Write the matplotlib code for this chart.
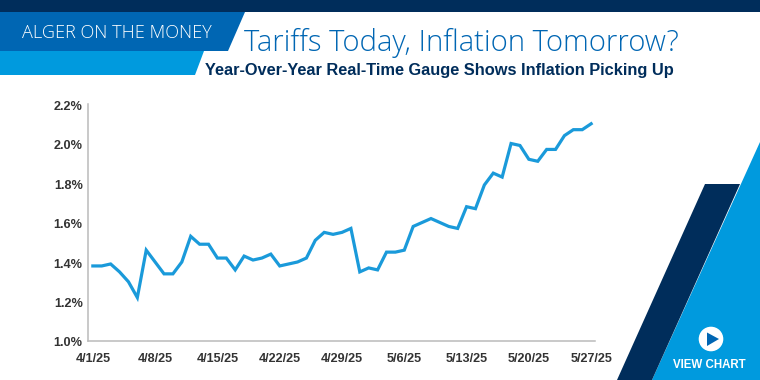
import matplotlib
matplotlib.use('Agg')
import matplotlib.pyplot as plt
from matplotlib.patches import Polygon, Circle
from matplotlib.transforms import ScaledTranslation

# year-over-year gauge, one value per calendar day from 4/1/25 to 5/27/25
gauge = [1.38, 1.38, 1.39, 1.35, 1.30, 1.22, 1.46, 1.40, 1.34, 1.34,
         1.40, 1.53, 1.49, 1.49, 1.42, 1.42, 1.36, 1.43, 1.41, 1.42,
         1.44, 1.38, 1.39, 1.40, 1.42, 1.51, 1.55, 1.54, 1.55, 1.57,
         1.35, 1.37, 1.36, 1.45, 1.45, 1.46, 1.58, 1.60, 1.62, 1.60,
         1.58, 1.57, 1.68, 1.67, 1.79, 1.85, 1.83, 2.00, 1.99, 1.92,
         1.91, 1.97, 1.97, 2.04, 2.07, 2.07, 2.10]
x_ticks = [0, 7, 14, 21, 28, 35, 42, 49, 56]
x_labels = ['4/1/25', '4/8/25', '4/15/25', '4/22/25', '4/29/25',
            '5/6/25', '5/13/25', '5/20/25', '5/27/25']
y_ticks = [1.0, 1.2, 1.4, 1.6, 1.8, 2.0, 2.2]
y_labels = ['1.0%', '1.2%', '1.4%', '1.6%', '1.8%', '2.0%', '2.2%']

NAVY = '#002D5B'
BLUE = '#0066B3'
SKY = '#009ADE'
W, H = 760, 380

fig = plt.figure(figsize=(7.6, 3.8), dpi=100, facecolor='white')

# banner layer in pixel coordinates, y going down
bg = fig.add_axes([0, 0, 1, 1])
bg.set_xlim(0, W)
bg.set_ylim(H, 0)
bg.axis('off')
bg.add_patch(Polygon([(0, 0), (760, 0), (760, 12), (0, 12)], color=NAVY, lw=0))
bg.add_patch(Polygon([(0, 12), (245, 12), (228, 51), (0, 51)], color=BLUE, lw=0))
bg.add_patch(Polygon([(0, 51), (204, 51), (195, 75), (0, 75)], color=SKY, lw=0))
bg.add_patch(Polygon([(760, 142), (760, 380), (652, 380)], color=SKY, lw=0))
bg.add_patch(Polygon([(705, 184), (740, 184), (652, 380), (617, 380)], color=NAVY, lw=0))
bg.add_patch(Circle((711, 339), 12.3, color='white', lw=0))
bg.add_patch(Polygon([(707, 332.5), (719, 339), (707, 346)], color=BLUE, lw=0))

bg.text(22, 32.5, 'ALGER ON THE MONEY', color='white', fontsize=13.1,
        family='Open Sans', weight='light', va='center', ha='left')
bg.text(244, 43, 'Tariffs Today, Inflation Tomorrow?', color=BLUE, fontsize=21.1,
        family='Open Sans', weight='light', va='center', ha='left')
bg.text(205, 70, 'Year-Over-Year Real-Time Gauge Shows Inflation Picking Up',
        color=NAVY, fontsize=11.75, family='Liberation Sans', weight='bold',
        va='center', ha='left')
bg.text(709.5, 365, 'VIEW CHART', color='white', fontsize=8.3,
        family='Liberation Sans', weight='bold', va='center', ha='center')

# chart
ax = fig.add_axes([87.5 / W, 1 - 341 / H, (594.7 - 87.5) / W, (341 - 104) / H])
ax.patch.set_alpha(0)
ax.plot(range(len(gauge)), gauge, color='#1A9ADA', lw=2.3, solid_joinstyle='miter')
ax.set_xlim(-0.6, 56.4)
ax.set_ylim(1.0, 2.2)
ax.set_xticks(x_ticks)
ax.set_xticklabels(x_labels)
ax.set_yticks(y_ticks)
ax.set_yticklabels(y_labels)
ax.tick_params(length=0, labelsize=9.1, labelcolor='#333333')
ax.tick_params(axis='x', pad=9)
ax.tick_params(axis='y', pad=3.5)
# y labels sit a pixel below their gridline value in the original
down = ScaledTranslation(0, -1 / 100, fig.dpi_scale_trans)
for lab in ax.get_yticklabels():
    lab.set_transform(lab.get_transform() + down)
for lab in ax.get_xticklabels() + ax.get_yticklabels():
    lab.set_family('Liberation Sans')
    lab.set_weight('bold')
ax.spines['top'].set_visible(False)
ax.spines['right'].set_visible(False)
ax.spines['left'].set_color('#BBBBBB')
ax.spines['bottom'].set_color('#BBBBBB')
ax.spines['left'].set_linewidth(1.1)
ax.spines['bottom'].set_linewidth(1.1)

fig.savefig('out.png', dpi=100)
